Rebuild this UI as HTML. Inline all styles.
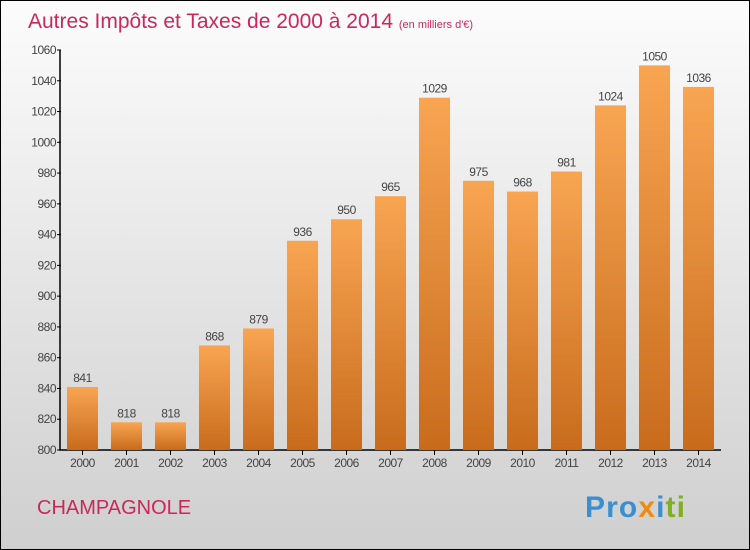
<!DOCTYPE html>
<html><head><meta charset="utf-8"><style>
body{margin:0;padding:0}
#wrap{position:relative;width:748px;height:548px;border:1px solid #000;background:linear-gradient(#fcfcfc,#cfcfcf);overflow:hidden;font-family:"Liberation Sans",sans-serif}
</style></head><body>
<div id="wrap">
<svg id="svg" width="748" height="548">
<defs><linearGradient id="bg" x1="0" y1="0" x2="0" y2="1"><stop offset="0" stop-color="#f8a552"/><stop offset="1" stop-color="#c86c1c"/></linearGradient></defs>
<text x="27" y="27" font-size="21" fill="#c8285a">Autres Impôts et Taxes de 2000 à 2014 <tspan font-size="11">(en milliers d'€)</tspan></text>
<text x="36" y="513" font-size="20" fill="#c8285a">CHAMPAGNOLE</text>
<text x="584" y="516" font-size="30" font-weight="bold" textLength="100"><tspan fill="#3a8fd0">Pro</tspan><tspan fill="#f08a10">x</tspan><tspan fill="#3a8fd0">i</tspan><tspan fill="#80b020">ti</tspan></text>
<g id="plot"></g>
</svg>
</div>
<script>
const years=["2000","2001","2002","2003","2004","2005","2006","2007","2008","2009","2010","2011","2012","2013","2014"];
const values=[841,818,818,868,879,936,950,965,1029,975,968,981,1024,1050,1036];
const ticks=[800,820,840,860,880,900,920,940,960,980,1000,1020,1040,1060];
const NS="http://www.w3.org/2000/svg";
const g=document.getElementById('plot');
const y=v=>449-(v-800)*400/260;
const x=i=>81.5+i*44;
function mk(t,a){const e=document.createElementNS(NS,t);for(const k in a)e.setAttribute(k,a[k]);g.appendChild(e);return e;}
let ax=mk('path',{d:'M59 49V449H720',stroke:'#000','stroke-width':1.5,fill:'none'});


ticks.forEach(t=>{
 const l=mk('line',{x1:56,x2:60,y1:y(t),y2:y(t),stroke:'#000'});
 
 
 const tx=mk('text',{x:55,y:y(t)+4,'font-size':12,fill:'#444','text-anchor':'end','letter-spacing':'-0.5'});
 tx.textContent=t;
 
 
});
years.forEach((yr,i)=>{
 const v=values[i];
 const r=mk('rect',{x:x(i)-15.5,y:y(v),width:31,height:449-y(v),fill:'url(#bg)'});
 
 
 const l=mk('line',{x1:x(i),x2:x(i),y1:449,y2:454,stroke:'#000'});
 
 
 const t=mk('text',{x:x(i),y:466,'font-size':12,fill:'#444','text-anchor':'middle','letter-spacing':'-0.5'});
 t.textContent=yr;
 
 
 const vt=mk('text',{x:x(i),y:y(v)-5,'font-size':12,fill:'#444','text-anchor':'middle','letter-spacing':'-0.5'});
 vt.textContent=v;
 
 
});
</script>
</body></html>
